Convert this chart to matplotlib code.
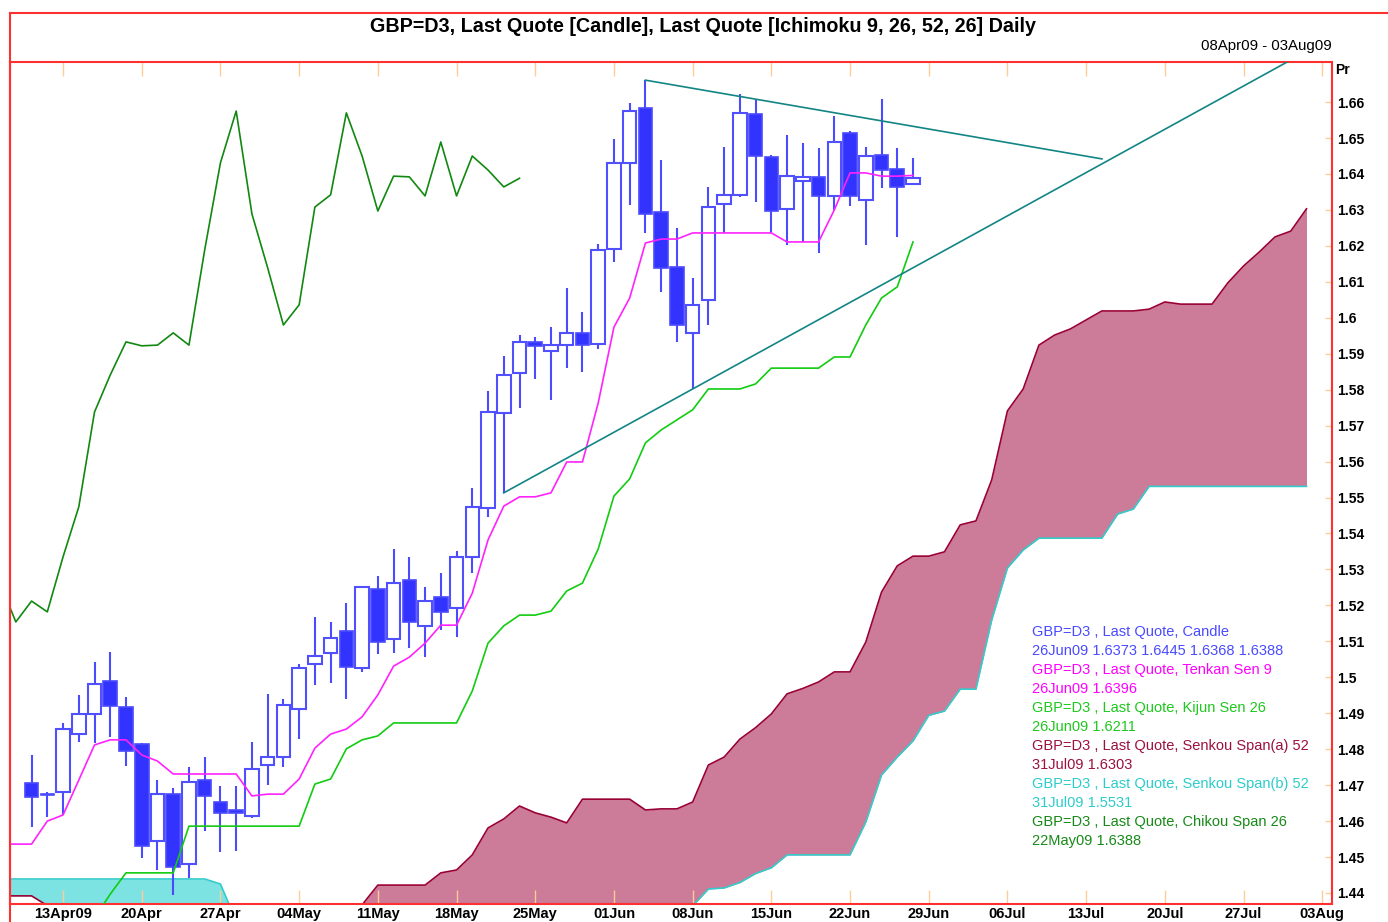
import numpy as np
import matplotlib
matplotlib.use('Agg')
import matplotlib.pyplot as plt
from matplotlib.lines import Line2D
from matplotlib.ticker import FuncFormatter

plt.rcParams['font.family'] = ['Liberation Sans', 'DejaVu Sans']

# trading day index, 0 = 13Apr09 (Mon), weekends skipped
candle_idx = np.arange(-2, 55)
opens = [1.4706, 1.4675, 1.4681, 1.4842, 1.4898, 1.4990, 1.4917, 1.4814, 1.4545, 1.4675,
         1.4481, 1.4714, 1.4653, 1.4631, 1.4614, 1.4756, 1.4778, 1.4912, 1.5037, 1.5068,
         1.5129, 1.5026, 1.5246, 1.5107, 1.5271, 1.5143, 1.5223, 1.5193, 1.5335, 1.5471,
         1.5735, 1.5846, 1.5933, 1.5908, 1.5924, 1.5958, 1.5927, 1.6191, 1.6431, 1.6584,
         1.6294, 1.6141, 1.5958, 1.6050, 1.6317, 1.6342, 1.6567, 1.6447, 1.6303, 1.6381,
         1.6392, 1.6339, 1.6514, 1.6328, 1.6453, 1.6414, 1.6373]
highs = [1.4784, 1.4681, 1.4873, 1.4951, 1.5043, 1.5070, 1.4945, 1.4817, 1.4714, 1.4692,
         1.4750, 1.4778, 1.4698, 1.4698, 1.4820, 1.4954, 1.4940, 1.5037, 1.5168, 1.5154,
         1.5207, 1.5254, 1.5282, 1.5357, 1.5335, 1.5251, 1.5290, 1.5351, 1.5527, 1.5796,
         1.5894, 1.5952, 1.5947, 1.5974, 1.6083, 1.6016, 1.6205, 1.6497, 1.6597, 1.6661,
         1.6439, 1.6250, 1.6111, 1.6364, 1.6475, 1.6623, 1.6606, 1.6453, 1.6508, 1.6486,
         1.6472, 1.6561, 1.6520, 1.6475, 1.6609, 1.6472, 1.6445]
lows = [1.4584, 1.4611, 1.4617, 1.4820, 1.4817, 1.4834, 1.4753, 1.4497, 1.4464, 1.4394,
        1.4442, 1.4572, 1.4514, 1.4517, 1.4610, 1.4700, 1.4750, 1.4828, 1.4979, 1.4984,
        1.4940, 1.5015, 1.5065, 1.5068, 1.5081, 1.5056, 1.5132, 1.5112, 1.5290, 1.5446,
        1.5513, 1.5749, 1.5830, 1.5771, 1.5860, 1.5849, 1.5913, 1.6155, 1.6314, 1.6236,
        1.6072, 1.5933, 1.5802, 1.5980, 1.6236, 1.6335, 1.6322, 1.6236, 1.6202, 1.6211,
        1.6180, 1.6300, 1.6311, 1.6202, 1.6361, 1.6225, 1.6368]
closes = [1.4667, 1.4673, 1.4856, 1.4898, 1.4981, 1.4920, 1.4795, 1.4531, 1.4675, 1.4472,
          1.4709, 1.4670, 1.4623, 1.4623, 1.4745, 1.4778, 1.4923, 1.5026, 1.5059, 1.5109,
          1.5029, 1.5251, 1.5098, 1.5262, 1.5154, 1.5212, 1.5182, 1.5335, 1.5474, 1.5738,
          1.5841, 1.5933, 1.5922, 1.5924, 1.5958, 1.5924, 1.6189, 1.6431, 1.6575, 1.6289,
          1.6139, 1.5980, 1.6036, 1.6308, 1.6342, 1.6570, 1.6450, 1.6297, 1.6394, 1.6392,
          1.6339, 1.6489, 1.6339, 1.6450, 1.6411, 1.6364, 1.6388]

tenkan_idx = np.arange(-4, 55)
tenkan = [1.4536, 1.4536, 1.4536, 1.4600, 1.4617, 1.4714, 1.4812, 1.4826, 1.4826, 1.4784,
          1.4767, 1.4731, 1.4731, 1.4731, 1.4731, 1.4731, 1.4670, 1.4675, 1.4675, 1.4717,
          1.4803, 1.4842, 1.4856, 1.4890, 1.4951, 1.5031, 1.5056, 1.5095, 1.5145, 1.5145,
          1.5234, 1.5382, 1.5476, 1.5502, 1.5502, 1.5513, 1.5599, 1.5599, 1.5763, 1.5974,
          1.6055, 1.6208, 1.6219, 1.6219, 1.6236, 1.6236, 1.6236, 1.6236, 1.6236, 1.6236,
          1.6211, 1.6211, 1.6211, 1.6300, 1.6403, 1.6403, 1.6394, 1.6394, 1.6396]

kijun_idx = np.arange(2, 55)
kijun = [1.4330, 1.4397, 1.4456, 1.4456, 1.4456, 1.4456, 1.4586, 1.4586, 1.4586, 1.4586,
         1.4586, 1.4586, 1.4586, 1.4586, 1.4703, 1.4717, 1.4801, 1.4826, 1.4837, 1.4873,
         1.4873, 1.4873, 1.4873, 1.4873, 1.4962, 1.5095, 1.5143, 1.5173, 1.5173, 1.5184,
         1.5240, 1.5262, 1.5357, 1.5504, 1.5552, 1.5652, 1.5688, 1.5716, 1.5744, 1.5802,
         1.5802, 1.5802, 1.5816, 1.5860, 1.5860, 1.5860, 1.5860, 1.5891, 1.5891, 1.5980,
         1.6055, 1.6086, 1.6211]

span_idx = np.arange(-4, 80)
span_a = [1.4392, 1.4392, 1.4392, 1.4365, 1.4300, 1.4300, 1.4300, 1.4300, 1.4300, 1.4300,
          1.4300, 1.4300, 1.4300, 1.4300, 1.4300, 1.4300, 1.4300, 1.4300, 1.4300, 1.4300,
          1.4300, 1.4300, 1.4300, 1.4367, 1.4422, 1.4422, 1.4422, 1.4422, 1.4456, 1.4464,
          1.4506, 1.4581, 1.4606, 1.4642, 1.4623, 1.4611, 1.4595, 1.4661, 1.4661, 1.4661,
          1.4661, 1.4631, 1.4634, 1.4634, 1.4653, 1.4756, 1.4778, 1.4828, 1.4860, 1.4898,
          1.4954, 1.4969, 1.4987, 1.5015, 1.5015, 1.5098, 1.5237, 1.5310, 1.5337, 1.5337,
          1.5349, 1.5424, 1.5435, 1.5549, 1.5741, 1.5802, 1.5924, 1.5952, 1.5969, 1.5994,
          1.6019, 1.6019, 1.6019, 1.6024, 1.6044, 1.6038, 1.6038, 1.6038, 1.6097, 1.6144,
          1.6183, 1.6225, 1.6241, 1.6303]
span_b = [1.4439, 1.4439, 1.4439, 1.4439, 1.4439, 1.4439, 1.4439, 1.4439, 1.4439, 1.4439,
          1.4439, 1.4439, 1.4439, 1.4439, 1.4425, 1.4322, 1.4300, 1.4300, 1.4300, 1.4300,
          1.4300, 1.4300, 1.4300, 1.4300, 1.4300, 1.4300, 1.4300, 1.4300, 1.4300, 1.4300,
          1.4300, 1.4300, 1.4300, 1.4300, 1.4300, 1.4300, 1.4300, 1.4300, 1.4300, 1.4300,
          1.4300, 1.4300, 1.4300, 1.4300, 1.4364, 1.4411, 1.4414, 1.4429, 1.4454, 1.4470,
          1.4506, 1.4506, 1.4506, 1.4506, 1.4506, 1.4597, 1.4728, 1.4778, 1.4823, 1.4894,
          1.4906, 1.4967, 1.4967, 1.5159, 1.5304, 1.5354, 1.5387, 1.5387, 1.5387, 1.5387,
          1.5387, 1.5454, 1.5468, 1.5531, 1.5531, 1.5531, 1.5531, 1.5531, 1.5531, 1.5531,
          1.5531, 1.5531, 1.5531, 1.5531]

chikou_shift = 25

# hand drawn trend lines (index, price)
trend_down = ([37, 66], [1.6661, 1.6442])
trend_up = ([28, 78], [1.5513, 1.6717])

xtick_pos = np.arange(0, 81, 5)
xtick_labels = ['13Apr09', '20Apr', '27Apr', '04May', '11May', '18May', '25May', '01Jun',
                '08Jun', '15Jun', '22Jun', '29Jun', '06Jul', '13Jul', '20Jul', '27Jul', '03Aug']
ytick_pos = np.arange(1.44, 1.665, 0.01)

legend_lines = [
    ('GBP=D3 , Last Quote, Candle', '#4a4aff'),
    ('26Jun09 1.6373 1.6445 1.6368 1.6388', '#4a4aff'),
    ('GBP=D3 , Last Quote, Tenkan Sen 9', '#ff00ff'),
    ('26Jun09 1.6396', '#ff00ff'),
    ('GBP=D3 , Last Quote, Kijun Sen 26', '#1ec81e'),
    ('26Jun09 1.6211', '#1ec81e'),
    ('GBP=D3 , Last Quote, Senkou Span(a) 52', '#9c1040'),
    ('31Jul09 1.6303', '#9c1040'),
    ('GBP=D3 , Last Quote, Senkou Span(b) 52', '#2ccccc'),
    ('31Jul09 1.5531', '#2ccccc'),
    ('GBP=D3 , Last Quote, Chikou Span 26', '#168a16'),
    ('22May09 1.6388', '#168a16'),
]

W, H = 1388, 922
red = '#ff3030'
tickc = '#ffcc99'

fig = plt.figure(figsize=(W/100, H/100), dpi=100)
ax = fig.add_axes([10/W, 1-904/H, 1322/W, 842/H])

# cloud
sa = np.array(span_a)
sb = np.array(span_b)
ax.fill_between(span_idx, sa, sb, where=sa >= sb, interpolate=True, color='#cc7b98', lw=0, zorder=1)
ax.fill_between(span_idx, sa, sb, where=sa < sb, interpolate=True, color='#7de3e2', lw=0, zorder=1)
ax.plot(span_idx, sa, color='#990033', lw=1.2, zorder=2)
ax.plot(span_idx, sb, color='#33cccc', lw=1.2, zorder=2)

# candles
o = np.array(opens)
c = np.array(closes)
up = c >= o
ax.vlines(candle_idx, lows, highs, color='#4a4aff', lw=1.5, zorder=3)
body_h = np.maximum(np.abs(c - o), 0.00008)
ax.bar(candle_idx[up], body_h[up], bottom=o[up], width=0.86, facecolor='white',
       edgecolor='#5050ff', lw=1.5, zorder=4)
ax.bar(candle_idx[~up], body_h[~up], bottom=c[~up], width=0.86, facecolor='#3333ff',
       edgecolor='#4a4aff', lw=1.2, zorder=4)

# ichimoku lines
ax.plot(candle_idx - chikou_shift, closes, color='#118811', lw=1.2, zorder=5)
ax.plot(kijun_idx, kijun, color='#11cc11', lw=1.2, zorder=5)
ax.plot(tenkan_idx, tenkan, color='#ff22ff', lw=1.2, zorder=5)

# trend lines
ax.plot(*trend_down, color='#138585', lw=1.2, zorder=6)
ax.plot(*trend_up, color='#138585', lw=1.2, zorder=6)

ax.set_xlim(-3.37, 80.62)
ax.set_ylim(1.43694, 1.67115)

for s in ax.spines.values():
    s.set_color(red)
    s.set_linewidth(1.5)

ax.set_xticks(xtick_pos)
ax.set_xticklabels(xtick_labels, fontweight='bold', fontsize=10.5)
ax.tick_params(axis='x', direction='in', length=10, width=1, color=tickc,
               top=True, bottom=True, labeltop=False, pad=2)
ax.yaxis.tick_right()
ax.set_yticks(ytick_pos)
ax.yaxis.set_major_formatter(FuncFormatter(lambda v, p: f'{round(v, 2):g}'))
ax.tick_params(axis='y', direction='in', length=5, width=1, color=tickc,
               labelsize=10, pad=4, left=False, right=True)
for lab in ax.get_yticklabels():
    lab.set_fontweight('bold')

# header box
fig.add_artist(Line2D([10/W, 1.0], [1-13/H, 1-13/H], color=red, lw=1.5))
fig.add_artist(Line2D([10/W, 10/W], [1-13/H, 0.0], color=red, lw=1.5))
fig.text(703/W, 1-26/H, 'GBP=D3, Last Quote [Candle], Last Quote [Ichimoku 9, 26, 52, 26] Daily',
         ha='center', va='center', fontsize=14.2, fontweight='bold')
fig.text(1332/W, 1-46/H, '08Apr09 - 03Aug09', ha='right', va='center', fontsize=10.8)
fig.text(1335/W, 1-70/H, 'Pr', ha='left', va='center', fontsize=10, fontweight='bold')

for k, (txt, col) in enumerate(legend_lines):
    fig.text(1032/W, 1-(632+19*k)/H, txt, ha='left', va='center', fontsize=10.5, color=col)

fig.savefig('out.png', dpi=100)
